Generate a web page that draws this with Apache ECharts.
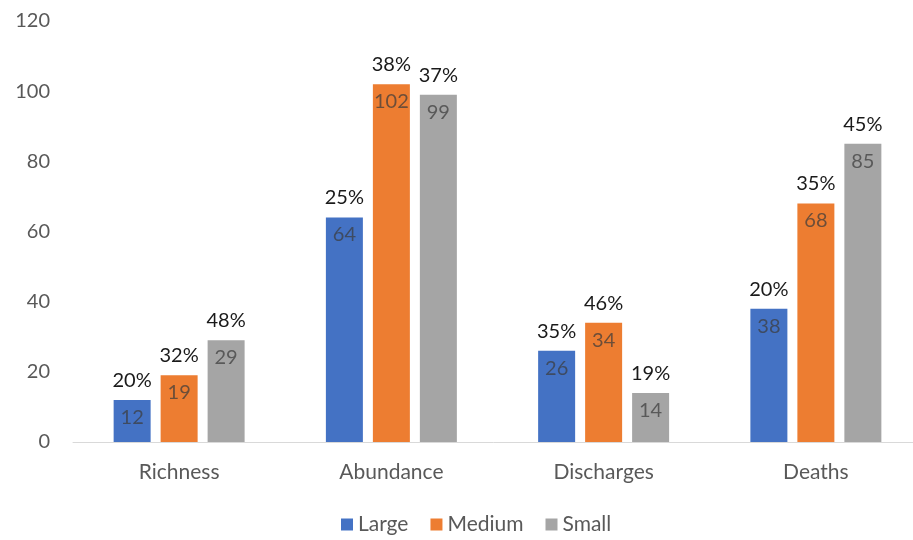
<!DOCTYPE html>
<html>
<head>
<meta charset="utf-8">
<script src="https://cdn.jsdelivr.net/npm/echarts@6/dist/echarts.min.js"></script>
<style>
  html, body { margin: 0; padding: 0; background: #ffffff; }
  #chart { width: 913px; height: 540px; }
</style>
</head>
<body>
<div id="chart"></div>
<script>
// Categories and series values
const categories = ['Richness', 'Abundance', 'Discharges', 'Deaths'];
const seriesNames = ['Large', 'Medium', 'Small'];
const largeValues = [12, 64, 26, 38];
const mediumValues = [19, 102, 34, 68];
const smallValues = [29, 99, 14, 85];
// Share percentages shown above each bar
const largePct = ['20%', '25%', '35%', '20%'];
const mediumPct = ['32%', '38%', '46%', '35%'];
const smallPct = ['48%', '37%', '19%', '45%'];
// Y axis ticks
const yMin = 0, yMax = 120, yStep = 20;

const colors = ['#4472C4', '#ED7D31', '#A5A5A5'];
const FONT = 'Lato, "Open Sans", sans-serif';

function makeSeries(name, values, pct, color) {
  return {
    name: name,
    type: 'bar',
    data: values,
    barWidth: 37,
    barGap: '27%',
    itemStyle: { color: color },
    label: {
      show: true,
      position: 'insideTop',
      distance: 0,
      offset: [0, -38],
      formatter: function (p) {
        return '{p|' + pct[p.dataIndex] + '}\n{v|' + p.value + '}';
      },
      rich: {
        p: { fontFamily: FONT, fontSize: 20, color: '#1a1a1a', lineHeight: 37, align: 'center' },
        v: { fontFamily: FONT, fontSize: 20, color: 'rgba(60,60,60,0.72)', lineHeight: 37, align: 'center' }
      }
    }
  };
}

const chart = echarts.init(document.getElementById('chart'));
chart.setOption({
  backgroundColor: '#ffffff',
  animation: false,
  textStyle: { fontFamily: FONT },
  // the plot area runs slightly past the right edge of the canvas
  grid: { left: 73, top: 21, bottom: 98, right: -9, outerBoundsMode: 'none', containLabel: false },
  legend: {
    data: seriesNames,
    left: 336,
    bottom: 0,
    icon: 'rect',
    itemWidth: 12,
    itemHeight: 12,
    itemGap: 22,
    textStyle: { fontFamily: FONT, fontSize: 21, color: '#595959' }
  },
  xAxis: {
    type: 'category',
    data: categories,
    axisLine: { show: true, lineStyle: { color: '#d9d9d9', width: 1 } },
    axisTick: { show: false },
    axisLabel: { fontFamily: FONT, fontSize: 21, color: '#595959', margin: 20 }
  },
  yAxis: {
    type: 'value',
    min: yMin,
    max: yMax,
    interval: yStep,
    axisLine: { show: false },
    axisTick: { show: false },
    splitLine: { show: false },
    axisLabel: { fontFamily: FONT, fontSize: 20, color: '#595959', margin: 23 }
  },
  series: [
    makeSeries(seriesNames[0], largeValues, largePct, colors[0]),
    makeSeries(seriesNames[1], mediumValues, mediumPct, colors[1]),
    makeSeries(seriesNames[2], smallValues, smallPct, colors[2])
  ]
});
</script>
</body>
</html>
